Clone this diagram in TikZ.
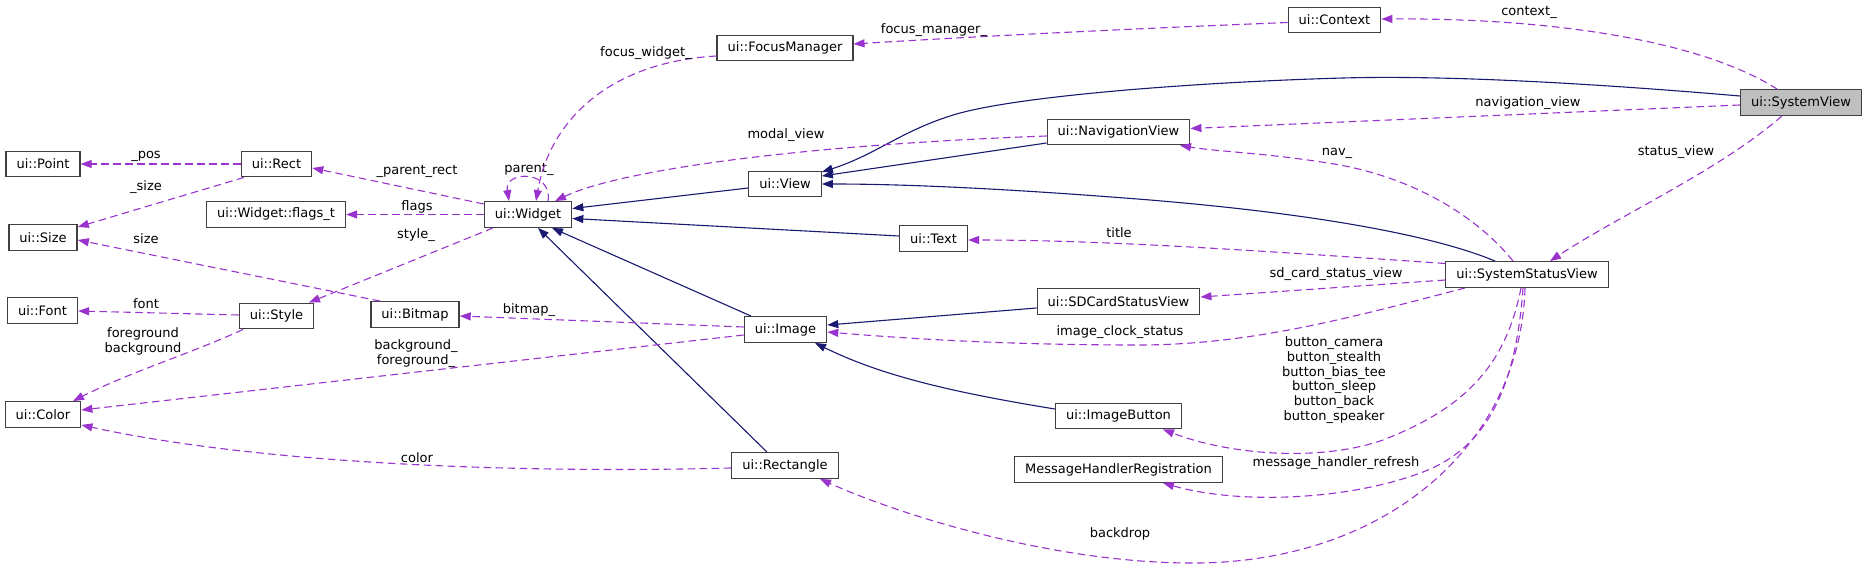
\documentclass[tikz,border=0pt]{standalone}
\usepackage{fontspec}
\setmainfont{DejaVu Sans}
\usetikzlibrary{arrows.meta}
\definecolor{inhcol}{HTML}{191970}
\definecolor{usecol}{HTML}{9A32CD}
\definecolor{boxcol}{HTML}{404040}
\definecolor{svfill}{HTML}{BFBFBF}
\tikzset{
  cls/.style={draw=boxcol, line width=1.3pt, minimum height=25.6pt, inner xsep=10.5pt, inner ysep=0pt,
    font=\fontsize{13}{15}\selectfont, fill=white},
  inh/.style={draw=inhcol, line width=1.1pt, -{Triangle[length=11pt,width=8pt]}},
  use/.style={draw=usecol, line width=1.1pt, dash pattern=on 7.5pt off 4.5pt, -{Triangle[length=11pt,width=8pt]}},
  lbl/.style={font=\fontsize{13}{14.7}\selectfont, inner sep=0pt, align=center},
}
\begin{document}
\begin{tikzpicture}[x=1pt,y=-1pt]
\useasboundingbox (0,0) rectangle (1868,569);
% nodes
\node[cls] (pt)  at (43,164)     {ui::Point};
\node[cls] (r)   at (276.5,164)  {ui::Rect};
\node[cls] (sz)  at (43,237.5)   {ui::Size};
\node[cls] (fl)  at (276,214.5)  {ui::Widget::flags\_t};
\node[cls] (w)   at (528,214.5)  {ui::Widget};
\node[cls] (fo)  at (42.5,310.5) {ui::Font};
\node[cls] (st)  at (276.5,316)  {ui::Style};
\node[cls] (bm)  at (415,314.5)  {ui::Bitmap};
\node[cls] (col) at (43,414.5)   {ui::Color};
\node[cls] (fm)  at (785,48)     {ui::FocusManager};
\node[cls] (ctx) at (1334.5,20)  {ui::Context};
\node[cls,fill=svfill] (sv) at (1801,102.5) {ui::SystemView};
\node[cls] (nv)  at (1118.5,132) {ui::NavigationView};
\node[cls] (v)   at (785,184)    {ui::View};
\node[cls] (txt) at (933.5,238.5) {ui::Text};
\node[cls] (sd)  at (1118.5,301.5) {ui::SDCardStatusView};
\node[cls] (ssv) at (1527,274.5) {ui::SystemStatusView};
\node[cls] (img) at (785.5,329.5) {ui::Image};
\node[cls] (ib)  at (1118.5,416) {ui::ImageButton};
\node[cls] (mhr) at (1118.5,469.5) {MessageHandlerRegistration};
\node[cls] (rc)  at (785,465.5)  {ui::Rectangle};

% inheritance edges
\draw[inh] (v.west |- 0,188) -- (w.east |- 0,208.5);
\draw[inh] (txt.west |- 0,236) -- (w.east |- 0,218.5);
\draw[inh] (img.north -| 751,0) -- (w.south -| 552,0);
\draw[inh] (rc.north -| 767,0) -- (w.south -| 538,0);
\draw[inh] (nv.west |- 0,143) -- (v.east |- 0,176);
\draw[inh] (sv.west |- 0,96) .. controls (1600,84) and (1450,75) .. (1343,78)
  .. controls (1200,82) and (1010,96) .. (950,116)
  .. controls (900,132) and (875,155) .. (v.east |- 0,172);
\draw[inh] (ssv.north -| 1495,0) .. controls (1440,238) and (1330,215) .. (1150,200)
  .. controls (1000,188) and (900,184) .. (v.east |- 0,184);
\draw[inh] (sd.west |- 0,308) -- (img.east |- 0,325);
\draw[inh] (ib.west |- 0,409) .. controls (950,392) and (880,375) .. (img.south -| 815,0);

% usage edges
\draw[use] (r.west) -- (pt.east);
\node[lbl] (l1) at (146,156) {\_pos};
\draw[use] (r.south -| 244,0) -- (sz.east |- 0,227);
\node[lbl] (l2) at (146,187) {\_size};
\draw[use] (w.west |- 0,204) -- (r.east |- 0,168);
\node[lbl] (l3) at (417,171) {\_parent\_rect};
\draw[use] (w.west) -- (fl.east);
\node[lbl] (l4) at (417,207) {flags};
\draw[use] (w.south -| 493,0) -- (st.north -| 309,0);
\node[lbl] (l5) at (416,235) {style\_};
\draw[use] (bm.north -| 380,0) -- (sz.east |- 0,240);
\node[lbl] (l6) at (146,238.5) {size};
\draw[use] (st.west |- 0,315) -- (fo.east |- 0,311);
\node[lbl] (l7) at (146,304) {font};
\draw[use] (st.south -| 243,0) .. controls (195,352) and (130,372) .. (col.north -| 73,0);
\node[lbl] (l8) at (143,341.5) {foreground\\background};
\draw[use] (img.west |- 0,327) -- (bm.east |- 0,316);
\node[lbl] (l9) at (529,310.5) {bitmap\_};
\draw[use] (img.west |- 0,335) -- (col.east |- 0,410);
\node[lbl] (l10) at (416,353.5) {background\_\\foreground\_};
\draw[use] (rc.west |- 0,468) .. controls (500,474) and (250,462) .. (col.east |- 0,425);
\node[lbl] (l11) at (417,458) {color};
\draw[use] (w.north -| 548,0) .. controls (553,170) and (504,170) .. (w.north -| 509,0);
\node[lbl] (l12) at (529,169) {parent\_};
\draw[use] (fm.west |- 0,56) .. controls (610,62) and (550,120) .. (w.north -| 536,0);
\node[lbl] (l13) at (646,53) {focus\_widget\_};
\draw[use] (nv.west |- 0,136) .. controls (800,145) and (620,170) .. (w.north -| 555,0);
\node[lbl] (l14) at (786,135.5) {modal\_view};
\draw[use] (ctx.west |- 0,22.5) .. controls (1100,30) and (950,38) .. (fm.east |- 0,44);
\node[lbl] (l15) at (934,30.5) {focus\_manager\_};
\draw[use] (sv.north -| 1777,0) .. controls (1700,40) and (1550,18) .. (ctx.east |- 0,19);
\node[lbl] (l16) at (1529,12) {context\_};
\draw[use] (sv.west |- 0,105) -- (nv.east |- 0,128.5);
\node[lbl] (l17) at (1528,103.5) {navigation\_view};
\draw[use] (sv.south -| 1782,0) .. controls (1720,170) and (1620,215) .. (ssv.north -| 1550,0);
\node[lbl] (l18) at (1676,152) {status\_view};
\draw[use] (ssv.north -| 1513,0) .. controls (1480,220) and (1420,180) .. (1340,165)
  .. controls (1270,153) and (1220,152) .. (nv.south -| 1180,0);
\node[lbl] (l19) at (1337,153) {nav\_};
\draw[use] (ssv.west |- 0,263.5) .. controls (1250,250) and (1100,240) .. (txt.east |- 0,240);
\node[lbl] (l20) at (1119,232.5) {title};
\draw[use] (ssv.west |- 0,280) -- (sd.east |- 0,297);
\node[lbl] (l21) at (1336,274) {sd\_card\_status\_view};
\draw[use] (ssv.south -| 1465,0) .. controls (1350,318) and (1250,345) .. (1138,345)
  .. controls (1000,345) and (900,338) .. (img.east |- 0,332);
\node[lbl] (l22) at (1120,332) {image\_clock\_status};
\draw[use] (ssv.south -| 1521,0) .. controls (1505,370) and (1460,410) .. (1383,440)
  .. controls (1320,462) and (1230,455) .. (ib.south -| 1163,0);
\node[lbl] (l23) at (1334,380) {button\_camera\\button\_stealth\\button\_bias\_tee\\button\_sleep\\button\_back\\button\_speaker};
\draw[use] (ssv.south -| 1523,0) .. controls (1515,400) and (1480,450) .. (1423,472)
  .. controls (1350,500) and (1240,505) .. (mhr.south -| 1163,0);
\node[lbl] (l24) at (1336,463) {message\_handler\_refresh};
\draw[use] (ssv.south -| 1525,0) .. controls (1520,450) and (1380,565) .. (1188,563)
  .. controls (1050,562) and (900,515) .. (rc.south -| 820,0);
\node[lbl] (l25) at (1120,534) {backdrop};
\end{tikzpicture}
\end{document}
